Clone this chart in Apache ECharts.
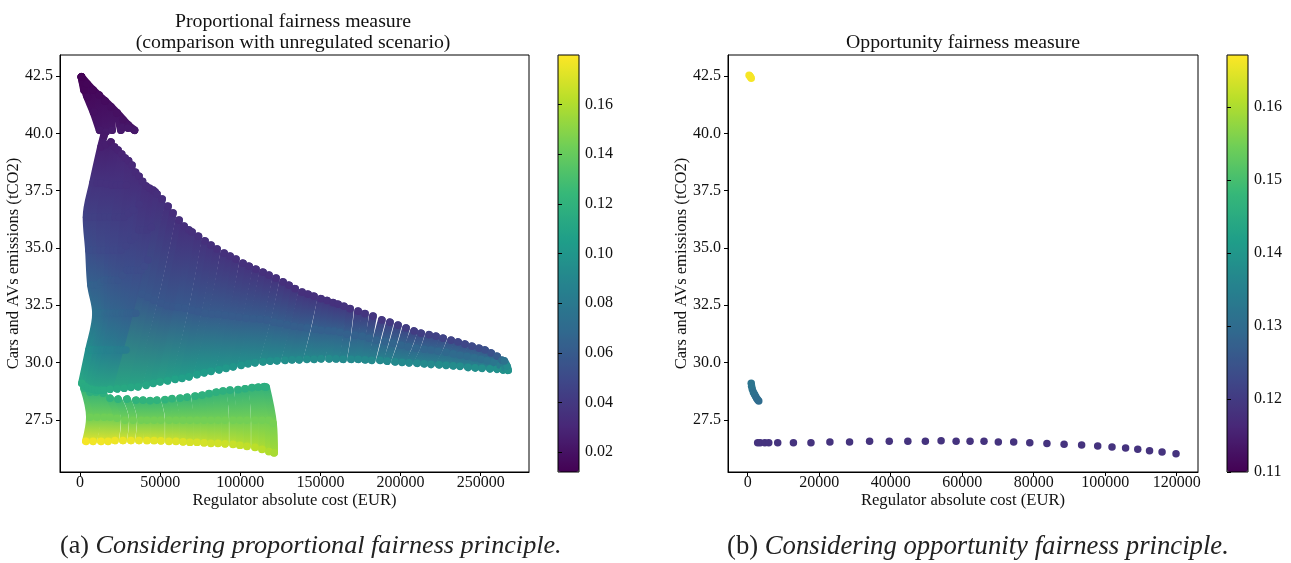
<!DOCTYPE html>
<html><head><meta charset="utf-8">
<script src="https://cdn.jsdelivr.net/npm/echarts@6/dist/echarts.min.js"></script>
<style>html,body{margin:0;padding:0;background:#fff}#c{width:1291px;height:563px}</style>
</head><body><div id="c"></div>
<script>
// Each column is a run of solutions: [cost EUR, emissions tCO2, fairness]
const wedgeColumns = [
[[900,42.46,.013],[4100,41.67,.015],[8400,40.93,.019],[12200,40.14,.023]],
[[900,42.46,.013],[8100,41.89,.015],[15600,41.41,.017],[23100,40.89,.019],[30000,40.36,.021],[34000,40.14,.023]],
[[900,42.46,.013],[2500,41.89,.014]],
[[4400,42.15,.014],[4700,41.58,.016]],
[[8100,41.89,.015],[8700,40.93,.019]],
[[11900,41.67,.016],[12500,40.14,.023]],
[[15600,41.41,.017],[16200,40.06,.024]],
[[19300,41.15,.018],[20000,40.14,.024]],
[[23100,40.89,.019],[25500,40.14,.024]],
[[26800,40.58,.02],[26800,40.27,.023]],
[[30000,40.36,.021],[30000,40.23,.023]],
[[34000,40.14,.023]]
];
const fanColumns = [
[[1200,29.09,.115],[5600,30.54,.095],[10000,32.15,.075],[6900,33.37,.065],[5600,34.90,.052],[4100,36.34,.045],[8100,37.83,.037],[13100,39.40,.026],[15000,39.92,.023]],
[[6500,30.54,.094],[11200,32.15,.074],[8700,33.37,.064],[7800,34.90,.052],[6700,36.34,.044],[10600,37.83,.036],[16000,39.50,.026]],
[[3100,28.96,.114],[7500,30.54,.094],[12500,32.15,.073],[10600,33.37,.063],[10000,34.90,.051],[9400,36.34,.044],[13100,37.83,.036],[19300,39.62,.025]],
[[9000,30.54,.092],[14000,32.15,.072],[12800,33.50,.062],[12500,34.90,.05],[12500,36.34,.043],[16500,37.80,.036],[21500,39.40,.027]],
[[5000,28.88,.114],[10600,30.54,.09],[15600,32.15,.07],[15000,33.59,.06],[15000,34.90,.05],[15600,36.34,.043],[20000,37.74,.036],[23700,39.27,.028]],
[[12200,30.54,.089],[17200,32.15,.069],[17100,33.59,.059],[17800,34.90,.049],[18700,36.34,.043],[22800,37.74,.036],[26000,39.10,.029]],
[[7500,28.83,.114],[13700,30.54,.088],[18700,32.15,.068],[19300,33.59,.058],[20600,34.90,.048],[21800,36.34,.042],[25600,37.74,.036],[28100,38.92,.03]],
[[15200,30.54,.087],[20600,32.15,.067],[21500,33.59,.057],[23100,34.90,.048],[24600,36.34,.042],[29000,37.74,.035],[30300,38.80,.03]],
[[9400,28.79,.114],[16800,30.54,.086],[22500,32.15,.066],[23700,33.59,.056],[25600,34.90,.047],[27500,36.34,.041],[32400,38.61,.031]],
[[18400,30.54,.086],[24300,32.15,.066],[26500,33.80,.054],[28700,35.10,.046],[30300,36.50,.04],[34600,38.30,.032]],
[[11200,28.79,.114],[20000,30.54,.085],[26200,32.15,.065],[29300,34.03,.052],[31800,35.34,.045],[33100,36.65,.04],[36800,38.13,.032]],
[[21500,30.54,.085],[27700,32.15,.065],[31500,34.03,.052],[34300,35.50,.044],[37000,36.90,.038],[39000,37.90,.033]],
[[13100,28.79,.114],[23100,30.54,.084],[29300,32.15,.064],[33700,34.03,.052],[36800,35.78,.042],[41200,37.70,.033]],
[[24000,30.54,.084],[30500,32.15,.064],[35900,34.03,.051],[39300,35.78,.042],[43400,37.60,.033]],
[[15000,28.79,.114],[25000,30.54,.083],[31800,32.15,.063],[38100,34.03,.051],[41800,35.78,.041],[45600,37.52,.033]],
[[26800,30.54,.083],[33300,32.15,.063],[40200,34.20,.05],[44500,35.90,.04],[46800,37.45,.033]],
[[18700,28.83,.114],[28700,30.54,.082],[34900,32.15,.062],[42400,34.47,.047],[48000,37.35,.034]]
];
const mainColumns = [
[[23100,28.85,.113],[38700,32.98,.058],[51200,37.13,.034]],
[[27500,28.88,.113],[42400,32.85,.058],[54900,36.82,.034]],
[[31800,28.92,.112],[46200,32.72,.058],[58000,36.52,.034]],
[[36200,28.94,.112],[50500,32.59,.058],[61800,36.21,.034]],
[[41200,29.01,.111],[54300,32.48,.058],[64900,35.95,.034]],
[[45600,29.09,.11],[58000,32.43,.058],[68000,35.78,.035]],
[[49900,29.16,.11],[61200,32.41,.059],[69900,35.69,.035]],
[[54600,29.20,.109],[65400,32.37,.059],[73900,35.51,.035]],
[[59300,29.27,.108],[69900,32.28,.059],[78000,35.30,.035]],
[[63600,29.31,.107],[73600,32.22,.059],[81700,35.12,.035]],
[[68000,29.38,.106],[78000,32.15,.06],[85500,34.95,.035]],
[[73000,29.47,.105],[82400,32.11,.06],[89900,34.77,.035]],
[[77400,29.55,.104],[86100,32.11,.06],[93600,34.64,.035]],
[[81700,29.62,.103],[90500,32.06,.06],[97300,34.51,.035]],
[[86700,29.68,.102],[94800,32.02,.06],[101700,34.33,.035]],
[[91100,29.75,.101],[99200,31.98,.06],[105500,34.20,.035]],
[[95500,29.81,.1],[103600,31.93,.061],[109800,34.07,.035]],
[[100500,29.88,.099],[108000,31.91,.061],[114200,33.94,.035]],
[[104800,29.95,.098],[112300,31.89,.061],[117900,33.81,.035]],
[[109200,29.99,.097],[116700,31.85,.061],[122300,33.68,.035]],
[[114200,30.03,.097],[121100,31.76,.062],[126700,33.51,.035]],
[[118600,30.06,.096],[124800,31.71,.062],[130400,33.37,.035]],
[[122900,30.08,.096],[129200,31.65,.062],[134200,33.22,.035]],
[[127900,30.10,.095],[133500,31.58,.062],[138500,33.07,.035]],
[[132300,30.12,.094],[137900,31.54,.062],[142300,32.98,.035]],
[[136700,30.12,.094],[141600,31.50,.063],[146000,32.89,.035]],
[[141600,30.14,.094],[146600,31.45,.063],[150400,32.78,.036]],
[[146000,30.14,.093],[150400,31.41,.063],[154100,32.70,.036]],
[[150400,30.16,.093],[154800,31.39,.063],[157900,32.61,.036]],
[[155400,30.16,.093],[158500,31.37,.063],[161000,32.54,.036]],
[[159700,30.16,.092],[162200,31.32,.064],[164700,32.45,.037]],
[[164100,30.14,.092],[166600,31.23,.064],[168500,32.35,.037]],
[[169100,30.14,.091],[171600,31.19,.064],[173500,32.24,.037]],
[[173500,30.14,.091],[176000,31.15,.065],[177800,32.13,.038]],
[[177800,30.12,.091],[180300,31.06,.065],[182800,32.02,.038]],
[[182000,30.10,.091],[185000,30.97,.065],[188300,31.85,.039]],
[[187200,30.10,.091],[190300,30.93,.065],[193400,31.76,.04]],
[[191600,30.06,.091],[195300,30.84,.066],[198400,31.63,.041]],
[[196600,30.03,.091],[200300,30.75,.066],[203400,31.50,.042]],
[[200900,30.01,.091],[204700,30.69,.066],[208400,31.37,.042]],
[[205300,29.99,.091],[209700,30.62,.067],[212800,31.28,.043]],
[[210300,29.97,.092],[214700,30.58,.067],[217800,31.21,.044]],
[[214700,29.95,.092],[219000,30.54,.067],[222100,31.15,.045]],
[[219000,29.92,.092],[223400,30.49,.068],[226500,31.06,.046]],
[[224000,29.90,.093],[228400,30.45,.069],[231500,30.97,.046]],
[[228400,29.88,.093],[232800,30.38,.07],[235900,30.89,.047]],
[[232800,29.86,.093],[237100,30.32,.07],[240200,30.80,.048]],
[[237100,29.84,.094],[241500,30.27,.071],[244600,30.71,.05]],
[[242100,29.79,.094],[245900,30.21,.072],[249000,30.62,.051]],
[[246500,29.77,.095],[250200,30.14,.073],[252700,30.54,.053]],
[[250800,29.75,.095],[254000,30.08,.075],[256500,30.41,.055]],
[[255800,29.73,.096],[258300,30.01,.078],[260200,30.27,.06]],
[[260200,29.71,.096],[262100,29.88,.082],[263300,30.10,.07]],
[[264000,29.68,.097],[265200,29.77,.09],[265800,29.88,.082]],
[[267100,29.66,.098],[266400,29.84,.092],[264800,30.06,.075]]
];
const lowerColumns = [
[[2500,28.88,.118],[6200,27.61,.143],[3700,26.56,.178]],
[[6200,28.70,.118],[10600,27.61,.143],[8100,26.56,.177]],
[[10000,28.70,.118],[15000,27.61,.143],[13100,26.56,.177]],
[[14400,28.66,.118],[18700,27.61,.143],[17500,26.56,.176]],
[[18700,28.44,.12],[23100,27.57,.143],[21800,26.60,.176]],
[[23700,28.40,.12],[28100,27.48,.144],[26800,26.60,.175]],
[[29300,28.40,.12],[33100,27.48,.144],[31800,26.60,.175]],
[[34900,28.35,.12],[38100,27.48,.144],[36800,26.60,.174]],
[[39300,28.35,.12],[41800,27.48,.144],[41800,26.60,.174]],
[[43700,28.33,.12],[46200,27.48,.144],[46200,26.60,.173]],
[[48000,28.35,.12],[50500,27.48,.144],[50500,26.58,.173]],
[[53000,28.37,.12],[55500,27.48,.144],[55500,26.56,.172]],
[[57400,28.42,.12],[59900,27.48,.144],[59900,26.56,.172]],
[[62400,28.44,.12],[64300,27.48,.144],[64300,26.54,.171]],
[[66800,28.48,.119],[68600,27.48,.144],[68600,26.52,.17]],
[[71800,28.53,.119],[73000,27.48,.144],[73000,26.52,.17]],
[[76100,28.57,.119],[77400,27.48,.144],[77400,26.50,.169]],
[[80500,28.64,.118],[81700,27.48,.144],[81700,26.47,.168]],
[[84900,28.70,.118],[86100,27.48,.144],[86100,26.47,.168]],
[[89200,28.75,.118],[90500,27.48,.144],[90500,26.45,.167]],
[[93600,28.79,.117],[95500,27.48,.144],[95500,26.43,.166]],
[[98600,28.81,.117],[99800,27.48,.144],[99800,26.39,.165]],
[[103000,28.85,.117],[104200,27.48,.144],[104200,26.34,.164]],
[[107300,28.90,.117],[109200,27.48,.144],[109200,26.30,.163]],
[[111100,28.92,.117],[113600,27.48,.144],[113600,26.21,.162]],
[[114800,28.94,.117],[117900,27.48,.144],[117900,26.12,.16]],
[[116100,28.92,.117],[120400,27.35,.145],[121100,26.06,.158]]
];
const dotsOpportunity = [
[400,42.54,.1665],[600,42.5,.1665],[800,42.46,.1665],[1000,42.41,.1665],
[1000,29.09,.132],[1100,28.96,.132],[1300,28.83,.132],[1600,28.70,.131],[1900,28.61,.131],[2200,28.53,.131],[2500,28.44,.13],[2800,28.37,.13],[3100,28.32,.13],
[2800,26.50,.1185],[3500,26.50,.1185],[4800,26.50,.1185],[5900,26.50,.1185],[8400,26.50,.1185],[12800,26.50,.1185],[17700,26.50,.1185],[23000,26.53,.1185],[28500,26.53,.1185],[34100,26.56,.1185],[39600,26.56,.1185],[44800,26.56,.1185],[49700,26.56,.1185],[54100,26.58,.1185],[58300,26.56,.1185],[62200,26.56,.1185],[66100,26.56,.1185],[70100,26.53,.1185],[74400,26.53,.1185],[78900,26.50,.1185],[83700,26.46,.1185],[88500,26.43,.1185],[93400,26.40,.1185],[97900,26.36,.1185],[101900,26.31,.1185],[105700,26.27,.1185],[109100,26.21,.1185],[112400,26.15,.1185],[115900,26.09,.1185],[119800,26.02,.1185]
];
const costTicksLeft = [0,50000,100000,150000,200000,250000];
const costTicksRight = [0,20000,40000,60000,80000,100000,120000];
const emissionTicks = [27.5,30,32.5,35,37.5,40,42.5];
const barTicksLeft = [.02,.04,.06,.08,.1,.12,.14,.16];
const barTicksRight = [.11,.12,.13,.14,.15,.16];
const leftRange = [.012,.18];
const rightRange = [.11,.1671];
const viridis = ['#440154','#482878','#3e4989','#31688e','#26828e','#1f9e89','#35b779','#6ece58','#b5de2b','#fde725'];

const SERIF = '"Liberation Serif"';
const chart = echarts.init(document.getElementById('c'), null, {renderer:'canvas'});
const allCols = [...lowerColumns, ...wedgeColumns, ...fanColumns, ...mainColumns];
const colour = v => echarts.color.lerp(Math.min(1,Math.max(0,(v-leftRange[0])/(leftRange[1]-leftRange[0]))), viridis);

function columnLine(col){
  const ys = col.map(k=>k[1]), hi = Math.max(...ys), lo = Math.min(...ys), span = (hi-lo)||1;
  const stops = col.slice().sort((a,b)=>b[1]-a[1]).map(k=>({offset:(hi-k[1])/span, color:colour(k[2])}));
  return {type:'line', xAxisIndex:0, yAxisIndex:0, data:col, smooth:0.35, showSymbol:false, symbol:'none', silent:true,
    z:1, animation:false, lineStyle:{width:7.8, cap:'round', join:'round',
    color:new echarts.graphic.LinearGradient(0,0,0,1,stops)}};
}
const axisBase = {type:'value', splitLine:{show:false},
  axisLine:{show:true,onZero:false,lineStyle:{color:'#000',width:1}},
  axisTick:{show:true,length:4,lineStyle:{color:'#000',width:1}}};
const labelStyle = {color:'#111',fontFamily:SERIF,fontSize:16};
const nameStyle = {color:'#111',fontFamily:SERIF,fontSize:16.6};
function xAxis(gi,min,max,ticks){return {...axisBase,gridIndex:gi,min,max,name:'Regulator absolute cost (EUR)',nameLocation:'middle',nameGap:20,nameMoveOverlap:false,nameTextStyle:nameStyle,
  axisTick:{...axisBase.axisTick,customValues:ticks},axisLabel:{...labelStyle,margin:3,customValues:ticks,formatter:v=>String(v)}};}
function yAxis(gi){return {...axisBase,gridIndex:gi,min:25.22,max:43.42,name:'Cars and AVs emissions (tCO2)',nameLocation:'middle',nameGap:38,nameMoveOverlap:false,nameTextStyle:nameStyle,
  axisTick:{...axisBase.axisTick,customValues:emissionTicks},axisLabel:{...labelStyle,margin:7,customValues:emissionTicks,formatter:v=>v.toFixed(1)}};}
function barX(gi){return {type:'value',gridIndex:gi,min:0,max:1,show:false};}
function barY(gi,range,ticks,dec){return {...axisBase,gridIndex:gi,position:'right',min:range[0],max:range[1],z:5,
  axisLine:{show:false},axisTick:{...axisBase.axisTick,customValues:ticks},axisLabel:{...labelStyle,margin:6,customValues:ticks,formatter:v=>v.toFixed(dec)}};}
function bar(left,range,si){return {type:'continuous',show:true,left,top:55,itemWidth:21,itemHeight:417,padding:0,min:range[0],max:range[1],dimension:2,seriesIndex:si,calculable:false,hoverLink:false,text:null,showLabel:false,realtime:false,inRange:{color:viridis},align:'left'};}
const gridBase = {top:55,height:417,show:true,borderColor:'#000',borderWidth:1,backgroundColor:'transparent',outerBoundsMode:'none'};

chart.setOption({
  animation:false, backgroundColor:'#fff',
  title:[
    {text:'Proportional fairness measure\n(comparison with unregulated scenario)',left:288,top:6,textAlign:'center',textStyle:{fontFamily:SERIF,fontSize:19.8,fontWeight:'normal',color:'#111',lineHeight:21,align:'center'}},
    {text:'Opportunity fairness measure',left:958,top:28,textAlign:'center',textStyle:{fontFamily:SERIF,fontSize:19.8,fontWeight:'normal',color:'#111'}}
  ],
  grid:[
    {...gridBase,left:60,width:469},
    {...gridBase,left:728,width:470},
    {...gridBase,left:558,width:21,z:5},
    {...gridBase,left:1227,width:21,z:5}
  ],
  xAxis:[xAxis(0,-12480,280150,costTicksLeft),xAxis(1,-5500,125950,costTicksRight),barX(2),barX(3)],
  yAxis:[yAxis(0),yAxis(1),barY(2,leftRange,barTicksLeft,2),barY(3,rightRange,barTicksRight,2)],
  visualMap:[bar(558,leftRange,0),bar(1227,rightRange,1)],
  series:[
    {type:'scatter',xAxisIndex:0,yAxisIndex:0,data:allCols.flat(),symbolSize:7.5,z:2,silent:true,animation:false,itemStyle:{opacity:1}},
    {type:'scatter',xAxisIndex:1,yAxisIndex:1,data:dotsOpportunity,symbolSize:7.5,z:2,silent:true,animation:false,itemStyle:{opacity:1}},
    ...allCols.filter(c=>c.length>1).map(columnLine)
  ],
  graphic:[
    {type:'text',left:60,top:533,style:{text:'{n|(a) }{i|Considering proportional fairness principle.}',rich:{n:{fontFamily:SERIF,fontSize:26.2,fill:'#222'},i:{fontFamily:SERIF,fontSize:26.2,fontStyle:'italic',fill:'#222'}}}},
    {type:'text',left:727,top:533,style:{text:'{n|(b) }{i|Considering opportunity fairness principle.}',rich:{n:{fontFamily:SERIF,fontSize:26.7,fill:'#222'},i:{fontFamily:SERIF,fontSize:26.7,fontStyle:'italic',fill:'#222'}}}}
  ]
});
</script></body></html>
